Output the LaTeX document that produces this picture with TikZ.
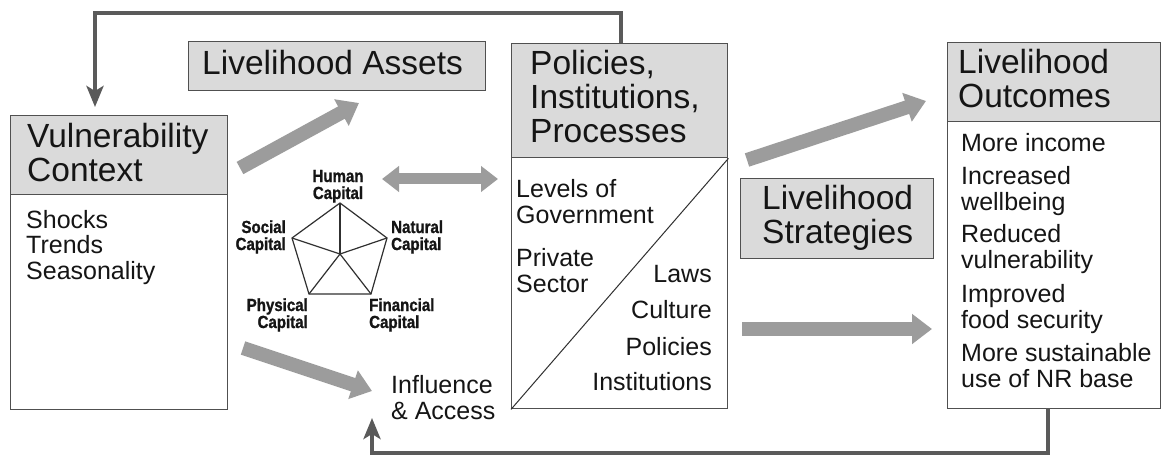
\documentclass[tikz,border=0pt]{standalone}
\usepackage{fontspec}
\setmainfont{Liberation Sans}
\newfontfamily\capfont[FakeStretch=0.86,FakeBold=1.2]{Liberation Sans}
\usetikzlibrary{arrows.meta}
\definecolor{bordc}{HTML}{505050}
\definecolor{hdrfill}{HTML}{DADADA}
\definecolor{fatc}{HTML}{9C9C9C}
\definecolor{fbc}{HTML}{5A5A5A}
\definecolor{txtc}{HTML}{151515}
\definecolor{pentc}{HTML}{303030}
\begin{document}
\begin{tikzpicture}[x=1pt,y=-1pt,
  box/.style={draw=bordc, line width=1.4pt, fill=white, inner sep=0pt, anchor=north west},
  hdr/.style={box, fill=hdrfill},
  htext/.style={inner sep=0pt, text=txtc, align=left, font=\fontsize{33.5}{34}\selectfont},
  btext/.style={inner sep=0pt, text=txtc, align=left, font=\fontsize{25}{25.5}\selectfont},
  ctext/.style={inner sep=0pt, text=txtc, font=\capfont\bfseries\fontsize{17.5}{17}\selectfont},
  fat/.style={draw=fatc, line width=14pt, -{Triangle[length=20pt,width=29pt]}},
  fatdbl/.style={draw=fatc, line width=11pt, {Triangle[length=17pt,width=25pt]}-{Triangle[length=17pt,width=25pt]}},
  fb/.style={draw=fbc, line width=4pt, -{Stealth[length=21pt,width=17pt,inset=5pt]}},
  pent/.style={draw=pentc, line width=1.2pt}
]
\useasboundingbox (0,0) rectangle (1161,457);
\fill[white] (0,0) rectangle (1161,457);

% Vulnerability Context
\node[box, minimum width=217pt, minimum height=294pt] (vc) at (10,115) {};
\node[hdr, minimum width=217pt, minimum height=79pt] (vch) at (10,115) {};
\node[htext, anchor=base west] (vct) at (27,182) {Vulnerability\\Context};
\node[btext, anchor=base west] (vcb) at (26,279) {Shocks\\Trends\\Seasonality};

% Livelihood Assets
\node[hdr, minimum width=297pt, minimum height=49pt] (la) at (188,41) {};
\node[htext, anchor=base west] (lat) at (202,75) {Livelihood Assets};

% Policies, Institutions, Processes
\node[box, minimum width=216pt, minimum height=365pt] (pip) at (511,43) {};
\node[hdr, minimum width=216pt, minimum height=114pt] (piph) at (511,43) {};
\draw[draw=pentc, line width=1pt] (pip.south west) -- (piph.south east);
\node[htext, anchor=base west] (pipt) at (530,143) {Policies,\\Institutions,\\Processes};
\node[btext, anchor=base west] (lev) at (516,223) {Levels of\\Government};
\node[btext, anchor=base west] (priv) at (516,292) {Private\\Sector};
\node[btext, anchor=base east] (laws) at (712,282) {Laws};
\node[btext, anchor=base east] (cult) at (712,318) {Culture};
\node[btext, anchor=base east] (pol) at (712,355) {Policies};
\node[btext, anchor=base east] (inst) at (712,390) {Institutions};

% Livelihood Strategies
\node[hdr, minimum width=193pt, minimum height=80pt] (ls) at (740,178) {};
\node[htext, anchor=base west] (lst) at (762,243) {Livelihood\\Strategies};

% Livelihood Outcomes
\node[box, minimum width=213pt, minimum height=366pt] (lo) at (947,42) {};
\node[hdr, minimum width=213pt, minimum height=79pt] (loh) at (947,42) {};
\node[htext, anchor=base west] (lot) at (958,108) {Livelihood\\Outcomes};
\node[btext, anchor=base west] (o1) at (961,152) {More income};
\node[btext, anchor=base west] (o2) at (961,210) {Increased\\wellbeing};
\node[btext, anchor=base west] (o3) at (961,268) {Reduced\\vulnerability};
\node[btext, anchor=base west] (o4) at (961,328) {Improved\\food security};
\node[btext, anchor=base west] (o5) at (961,387) {More sustainable\\use of NR base};

% Influence & Access
\node[btext, anchor=base west] (ia) at (391,419) {Influence\\\& Access};

% Asset pentagon
\coordinate (pc) at (340,254);
\coordinate (p1) at (340,203);
\coordinate (p2) at (387,238);
\coordinate (p3) at (371,294);
\coordinate (p4) at (309,294);
\coordinate (p5) at (292,238);
\draw[pent, line join=miter] (p1) -- (p2) -- (p3) -- (p4) -- (p5) -- cycle;
\foreach \p in {p1,p2,p3,p4,p5} \draw[pent] (pc) -- (\p);
\node[ctext, anchor=base, align=center] (hum) at (338,199) {Human\\Capital};
\node[ctext, anchor=base east, align=right] (soc) at (286,250) {Social\\Capital};
\node[ctext, anchor=base west, align=left] (nat) at (391,250) {Natural\\Capital};
\node[ctext, anchor=base east, align=right] (phy) at (308,328) {Physical\\Capital};
\node[ctext, anchor=base west, align=left] (fin) at (369,328) {Financial\\Capital};

% Fat arrows
\coordinate (a1s) at (240,168); \coordinate (a1e) at (359,103);
\coordinate (a2s) at (382,179); \coordinate (a2e) at (498,179);
\coordinate (a3s) at (243,348); \coordinate (a3e) at (372,391);
\coordinate (a4s) at (747,160); \coordinate (a4e) at (926,101);
\coordinate (a5s) at (742,329); \coordinate (a5e) at (932,329);
\draw[fat] (a1s) -- (a1e);
\draw[fatdbl] (a2s) -- (a2e);
\draw[fat] (a3s) -- (a3e);
\draw[fat] (a4s) -- (a4e);
\draw[fat] (a5s) -- (a5e);

% Feedback loops
\coordinate (pipout) at (621,43);
\coordinate (vcin) at (95,107);
\coordinate (lobot) at (1048,408);
\coordinate (iain) at (372,418);
\draw[fb] (pipout) -- ++(0,-30) -| (vcin);
\draw[fb] (lobot) -- ++(0,45) -| (iain);
\end{tikzpicture}
\end{document}
